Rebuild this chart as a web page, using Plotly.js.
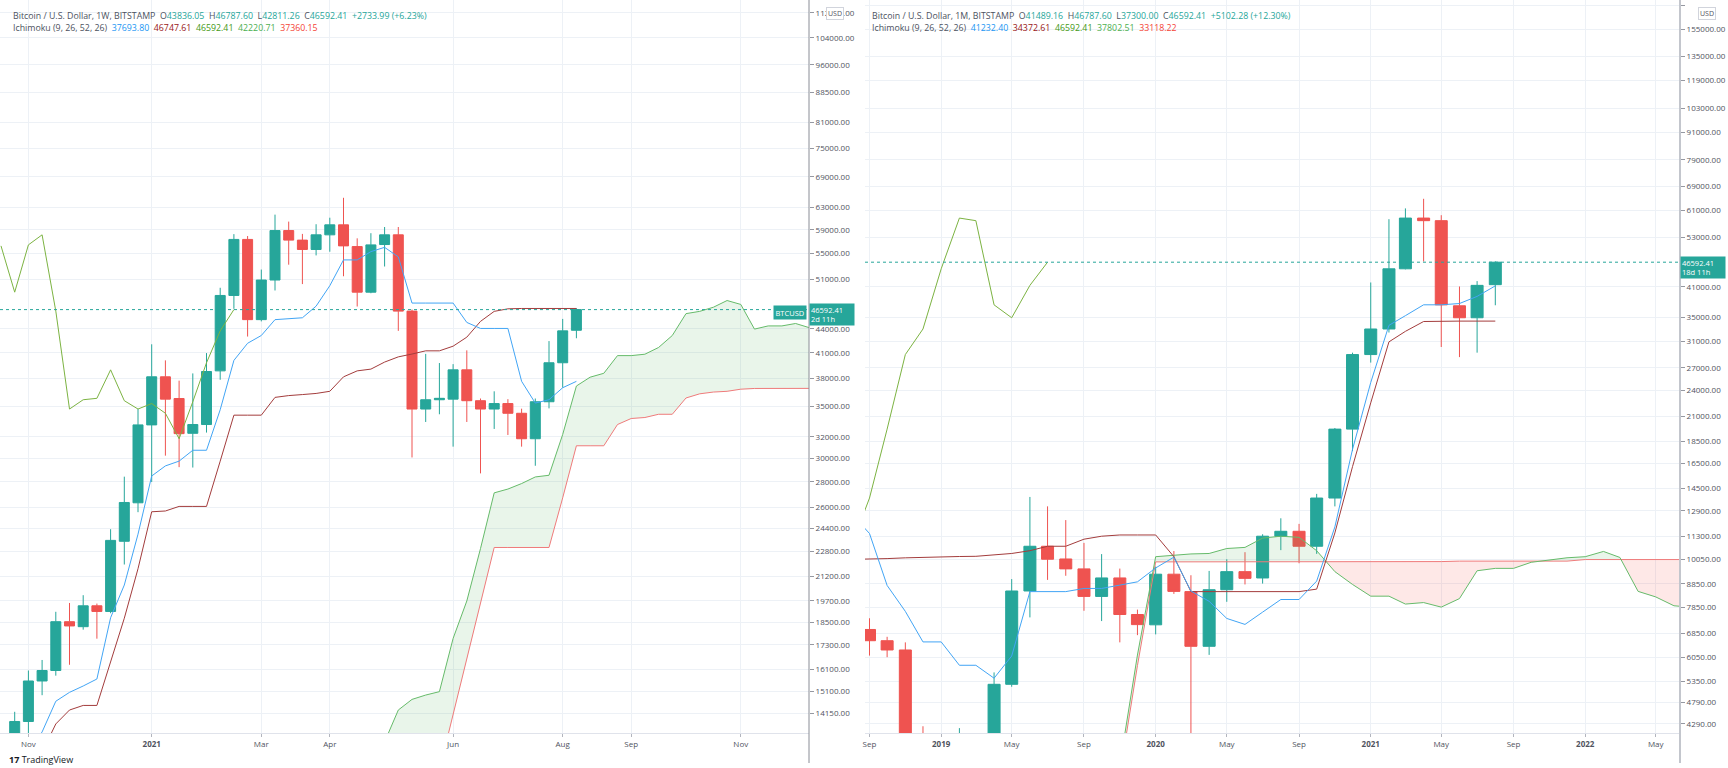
<!DOCTYPE html>
<html><head><meta charset="utf-8">
<script src="https://cdn.plot.ly/plotly-3.0.1.min.js"></script>
<style>html,body{margin:0;padding:0;background:#fff;overflow:hidden}#chart{width:1728px;height:768px}</style>
</head><body><div id="chart"></div>
<script>
// ================= WEEKLY PANEL (1W) =================
// period dates, index = k + 1 (k = 0 is the first candle)
const weekDates = ['2020-10-19','2020-10-26','2020-11-02','2020-11-09','2020-11-16','2020-11-23','2020-11-30','2020-12-07','2020-12-14','2020-12-21','2020-12-28',
'2021-01-04','2021-01-11','2021-01-18','2021-01-25','2021-02-01','2021-02-08','2021-02-15','2021-02-22','2021-03-01','2021-03-08','2021-03-15','2021-03-22','2021-03-29',
'2021-04-05','2021-04-12','2021-04-19','2021-04-26','2021-05-03','2021-05-10','2021-05-17','2021-05-24','2021-05-31','2021-06-07','2021-06-14','2021-06-21','2021-06-28',
'2021-07-05','2021-07-12','2021-07-19','2021-07-26','2021-08-02','2021-08-09','2021-08-16','2021-08-23','2021-08-30','2021-09-06','2021-09-13','2021-09-20','2021-09-27',
'2021-10-04','2021-10-11','2021-10-18','2021-10-25','2021-11-01','2021-11-08','2021-11-15','2021-11-22','2021-11-29','2021-12-06','2021-12-13'];
const wOpen  = [13050,13800,15553,16043,18531,18260,19422,19100,23500,26330,33143,38203,35828,32330,33180,38880,48581,57326,45233,50848,58847,57209,55648,58110,59850,56130,49054,56470,58110,46386,34733,35700,35764,38997,35600,34733,35300,34300,31815,35490,39822,43836.05];
const wHigh  = [14200,16043,16549,19081,19585,20040,19550,24354,28443,34733,42054,40104,37770,38588,40977,49696,58231,57900,52444,61684,60426,58270,59960,61124,64830,57510,58390,59470,59470,46600,40880,39790,39660,41308,35830,36600,35760,34770,35830,42455,45327,46787.60];
const wLow   = [12900,13200,14914,15800,16316,18100,17624,19000,21942,25610,28000,30264,29254,29220,32400,37870,46700,43027,45000,49300,53204,50240,54680,55280,51415,47020,48900,52920,43757,30103,33430,34200,31080,33430,28720,32750,32170,31080,29374,34800,37000,42811.26];
const wClose = [13800,15553,16043,18531,18300,19422,19100,23562,26354,33143,38203,35764,32299,33180,38805,48581,57326,45233,50848,58847,57209,55648,58110,59850,56243,49054,56410,58110,46386,34733,35700,35850,38997,35600,34733,35300,34300,31815,35490,39822,43757,46592.41];
// Ichimoku (weekly) - each series starts at period index k0
const wConvK0 = 1;
const wConv = [12600,13380,14650,15040,15325,15645,18750,20650,24000,28500,29360,29780,30750,30750,34660,40100,42180,43160,45230,45330,45480,47070,50000,53960,53960,55300,56000,54450,47500,47500,47500,47500,44860,44070,44070,44070,37700,35350,35700,36990,37693.80];
const wBaseK0 = 2;
const wBase = [12600,13700,14275,14470,14470,16520,18720,21670,25640,25700,26050,26050,26050,29775,34110,34110,34110,35950,36140,36250,36370,36600,38200,38880,39080,39900,40520,40860,41250,41250,41820,42950,45000,46350,46700,46747.61,46747.61,46747.61,46747.61,46747.61];
const wLagK0 = -1;
const wLag = [56243,49054,56410,58110,46386,34733,35700,35850,38997,35600,34733,35300,34300,31815,35490,39822,43757,46592.41];
const wLeadK0 = 27;
const wLeadA = [12990,14275,14730,14920,15070,17635,19700,23000,27115,27420,27870,28420,28560,32220,37178,38158,38600,40670,40670,40840,41660,43160,46040,46350,46920,47860,47310,43985,44400,44400,44720,44170,43900];
const wLeadB = [11700,11700,11800,11900,11950,14095,16570,19525,23073,23073,23073,23073,23073,26720,31160,31160,31160,33180,33775,33875,34200,34200,35885,36330,36520,36600,36830,36910,36910,36910,36910,36910,36920];
const wTickDates = ['2020-11-02','2021-01-04','2021-03-01','2021-04-05','2021-06-07','2021-08-02','2021-09-06','2021-11-01'];
const wTickText  = ['Nov','<b>2021</b>','Mar','Apr','Jun','Aug','Sep','Nov'];
const wPriceTicks = [14150,15100,16100,17300,18500,19700,21200,22800,24400,26000,28000,30000,32000,35000,38000,41000,44000,51000,55000,59000,63000,69000,75000,81000,88500,96000,104000,112000];

// ================= MONTHLY PANEL (1M) =================
const monthDates = ['2018-08-01','2018-09-01','2018-10-01','2018-11-01','2018-12-01',
'2019-01-01','2019-02-01','2019-03-01','2019-04-01','2019-05-01','2019-06-01','2019-07-01','2019-08-01','2019-09-01','2019-10-01','2019-11-01','2019-12-01',
'2020-01-01','2020-02-01','2020-03-01','2020-04-01','2020-05-01','2020-06-01','2020-07-01','2020-08-01','2020-09-01','2020-10-01','2020-11-01','2020-12-01',
'2021-01-01','2021-02-01','2021-03-01','2021-04-01','2021-05-01','2021-06-01','2021-07-01','2021-08-01','2021-09-01','2021-10-01','2021-11-01','2021-12-01',
'2022-01-01','2022-02-01','2022-03-01','2022-04-01','2022-05-01','2022-06-01','2022-07-01'];
const mOpen  = [6990,6596,6288,4030,3690,3440,3820,4080,5266,8527,10744,10060,9558,8291,9122,7552,7160,9300,8500,6408,8583,9424,9120,11316,11607,10744,13782,19675,28918,33000,45030,58520,57740,37200,34970,41489.16];
const mHigh  = [7407,6730,6540,4240,4070,4200,4090,5600,9067,13860,13203,12298,10933,10317,9573,7745,9672,10480,9250,9458,10047,10420,11430,12413,12060,14080,19790,29200,41961,58180,61520,64650,59400,41100,42260,46787.60];
const mLow   = [6108,6058,3650,3120,3400,3400,3700,4000,5200,7440,9030,9224,7698,7300,6540,6788,6815,8400,3850,6130,8064,8820,8860,10530,9840,10330,13200,17560,27740,32400,44900,46770,30070,28540,29200,37300.00];
const mClose = [6596,6288,4030,3690,3440,3820,4080,5266,8527,10744,10047,9558,8291,9122,7552,7168,9300,8510,6408,8583,9424,9102,11316,11607,10744,13782,19675,28918,33000,45030,58520,57740,37380,34970,41340,46592.41];
const mConvK0 = -1;
const mConv = [12725,11475,8775,7675,6555,6555,5810,5810,5435,6095,8500,8500,8500,8640,8640,8790,8940,9605,10155,8525,8085,7400,7175,7645,8160,8160,8975,11875,17725,25035,33625,35350,37390,37390,37640,39050,41232.40];
const mBaseK0 = -1;
const mBase = [10040,10047,10080,10120,10150,10180,10190,10200,10280,10350,10500,10744,10744,11143,11316,11388,11388,11388,10180,8500,8500,8500,8500,8500,8500,8500,8610,11510,16210,22535,30875,32600,34300,34372.61,34372.61,34372.61,34372.61];
const mLagK0 = -1;
const mLag = [10744,13782,19675,28918,33000,45030,58520,57740,37380,34970,41340,46592.41];
const mLeadK0 = 14;
const mLeadA = [3470,6125,10180,10275,10325,10350,10620,10680,11206,11316,11250,10500,9424,8820,8302,8302,7970,8032,7846,8199,9467,9584,9584,9889,10023,10122,10180,10459,10140,8510,8270,7900,7840];
const mLeadB = [3300,5800,9910,9910,9910,9910,9910,9926,9926,9926,9926,9926,9926,9926,9926,9926,9926,9926,9926,9950,9950,9950,9950,9950,9950,9950,10030,10030,10030,10030,10030,10030,10030];
const mTickDates = ['2018-09-01','2019-01-01','2019-05-01','2019-09-01','2020-01-01','2020-05-01','2020-09-01','2021-01-01','2021-05-01','2021-09-01','2022-01-01','2022-05-01'];
const mTickText  = ['Sep','<b>2019</b>','May','Sep','<b>2020</b>','May','Sep','<b>2021</b>','May','Sep','<b>2022</b>','May'];
const mPriceTicks = [4290,4790,5350,6050,6850,7850,8850,10050,11300,12900,14500,16500,18500,21000,24000,27000,31000,35000,41000,53000,61000,69000,79000,91000,103000,119000,135000,155000,175000];

// ================= STYLE / LAYOUT =================
const W = 1728, H = 768, PB = 733;
const L_END = 809, R_START = 865, R_END = 1680;
const UP = '#26a69a', DOWN = '#ef5350';
const C_CONV = '#42a5f5', C_BASE = '#a33c3c', C_LAG = '#7cb342', C_LA = '#66bb6a', C_LB = '#ef7b7b';
const FILL_UP = 'rgba(76,175,80,0.12)', FILL_DN = 'rgba(244,67,54,0.12)';
const TXT = '#50535e', GRID = '#edf1f6', FONT = 'Open Sans, Lato, sans-serif';
const px = x => x / W, py = y => (PB - y) / PB;
const L_RANGE = ['2020-10-18 11:45', '2021-12-05 20:24'];
const R_RANGE = ['2018-08-24 08:24', '2022-06-11 07:00'];

const slice = (dates, k0, n) => dates.slice(k0 + 1, k0 + 1 + n);

function candle(dates, o, h, l, c, xa, ya) {
  return {type:'candlestick', x: dates.slice(1, 1 + o.length), open:o, high:h, low:l, close:c,
    xaxis:xa, yaxis:ya, whiskerwidth:0, hoverinfo:'skip',
    increasing:{line:{color:UP, width:1}, fillcolor:UP},
    decreasing:{line:{color:DOWN, width:1}, fillcolor:DOWN}};
}
function line(dates, k0, vals, color, xa, ya) {
  return {type:'scatter', mode:'lines', x: slice(dates, k0, vals.length), y: vals,
    line:{color, width:1}, xaxis:xa, yaxis:ya, hoverinfo:'skip'};
}
function cloud(dates, k0, a, b, xa, ya) {
  const t = slice(dates, k0, a.length).map(d => Date.parse(d));
  const out = [];
  let seg = null;
  const flush = () => {
    if (seg && seg.xs.length > 1) out.push({type:'scatter', mode:'lines', fill:'toself',
      x: seg.xs.concat(seg.xs.slice().reverse()), y: seg.ya.concat(seg.yb.slice().reverse()),
      fillcolor: seg.s > 0 ? FILL_UP : FILL_DN, line:{width:0}, xaxis:xa, yaxis:ya, hoverinfo:'skip'});
  };
  for (let i = 0; i < t.length; i++) {
    const s = a[i] >= b[i] ? 1 : -1;
    if (!seg) { seg = {s, xs:[t[i]], ya:[a[i]], yb:[b[i]]}; continue; }
    if (s !== seg.s) {
      const d0 = Math.log(a[i-1]) - Math.log(b[i-1]), d1 = Math.log(a[i]) - Math.log(b[i]);
      const f = d0 / (d0 - d1);
      const tx = t[i-1] + f * (t[i] - t[i-1]);
      const yv = Math.exp(Math.log(a[i-1]) + f * (Math.log(a[i]) - Math.log(a[i-1])));
      seg.xs.push(tx); seg.ya.push(yv); seg.yb.push(yv);
      flush();
      seg = {s, xs:[tx, t[i]], ya:[yv, a[i]], yb:[yv, b[i]]};
    } else { seg.xs.push(t[i]); seg.ya.push(a[i]); seg.yb.push(b[i]); }
  }
  flush();
  return out;
}
function priceLine(range, price, xa, ya) {
  return {type:'scatter', mode:'lines', x: range, y:[price, price], xaxis:xa, yaxis:ya,
    line:{color:UP, width:1, dash:'dot'}, hoverinfo:'skip'};
}

const wLast = wClose[wClose.length - 1], mLast = mClose[mClose.length - 1];
const traces = [
  candle(weekDates, wOpen, wHigh, wLow, wClose, 'x', 'y'),
  ...cloud(weekDates, wLeadK0, wLeadA, wLeadB, 'x', 'y'),
  line(weekDates, wLeadK0, wLeadB, C_LB, 'x', 'y'),
  line(weekDates, wLeadK0, wLeadA, C_LA, 'x', 'y'),
  line(weekDates, wLagK0, wLag, C_LAG, 'x', 'y'),
  line(weekDates, wBaseK0, wBase, C_BASE, 'x', 'y'),
  line(weekDates, wConvK0, wConv, C_CONV, 'x', 'y'),
  priceLine(L_RANGE, wLast, 'x', 'y'),
  candle(monthDates, mOpen, mHigh, mLow, mClose, 'x2', 'y2'),
  ...cloud(monthDates, mLeadK0, mLeadA, mLeadB, 'x2', 'y2'),
  line(monthDates, mLeadK0, mLeadB, C_LB, 'x2', 'y2'),
  line(monthDates, mLeadK0, mLeadA, C_LA, 'x2', 'y2'),
  line(monthDates, mLagK0, mLag, C_LAG, 'x2', 'y2'),
  line(monthDates, mBaseK0, mBase, C_BASE, 'x2', 'y2'),
  line(monthDates, mConvK0, mConv, C_CONV, 'x2', 'y2'),
  priceLine(R_RANGE, mLast, 'x2', 'y2')
];

const tickFont = {family: FONT, size: 8, color: TXT};
function xax(domain, range, tv, tt, anchor) {
  return {type:'date', domain, range, anchor, tickvals:tv, ticktext:tt, tickfont:tickFont,
    showgrid:true, gridcolor:GRID, gridwidth:1, ticks:'outside', ticklen:3, tickcolor:'#b2b5be',
    showline:true, linecolor:'#e0e3eb', zeroline:false, rangeslider:{visible:false}, fixedrange:true};
}
function yax(range, ticks, anchor) {
  return {type:'log', side:'right', anchor, range, tickvals:ticks, ticktext:ticks.map(v => v.toFixed(2)),
    tickfont:tickFont, showgrid:true, gridcolor:GRID, gridwidth:1, ticks:'outside', ticklen:4,
    tickcolor:'#9598a1', showline:false, zeroline:false, fixedrange:true};
}

const G = '#4c525e';
const sp = '\u00a0\u00a0';
const kv = (k, v) => `<span style="color:${G}">${k}</span><span style="color:${UP}">${v}</span>`;
const hdr1L = `<span style="color:${G}">Bitcoin / U.S. Dollar, 1W, BITSTAMP</span>${sp}` +
  [kv('O','43836.05'), kv('H','46787.60'), kv('L','42811.26'), kv('C','46592.41')].join(sp) +
  `${sp}<span style="color:${UP}">+2733.99 (+6.23%)</span>`;
const hdr2L = `<span style="color:${G}">Ichimoku (9, 26, 52, 26)</span>${sp}` +
  `<span style="color:#2196f3">37693.80</span>${sp}<span style="color:#991515">46747.61</span>${sp}` +
  `<span style="color:#459915">46592.41</span>${sp}<span style="color:#4caf50">42220.71</span>${sp}<span style="color:#f44336">37360.15</span>`;
const hdr1R = `<span style="color:${G}">Bitcoin / U.S. Dollar, 1M, BITSTAMP</span>${sp}` +
  [kv('O','41489.16'), kv('H','46787.60'), kv('L','37300.00'), kv('C','46592.41')].join(sp) +
  `${sp}<span style="color:${UP}">+5102.28 (+12.30%)</span>`;
const hdr2R = `<span style="color:${G}">Ichimoku (9, 26, 52, 26)</span>${sp}` +
  `<span style="color:#2196f3">41232.40</span>${sp}<span style="color:#991515">34372.61</span>${sp}` +
  `<span style="color:#459915">46592.41</span>${sp}<span style="color:#4caf50">37802.51</span>${sp}<span style="color:#f44336">33118.22</span>`;

const hfont = {family: FONT, size: 8.8, color: G};
const ann = (x, y, text, extra) => Object.assign({xref:'paper', yref:'paper', x:px(x), y:py(y), text,
  showarrow:false, xanchor:'left', yanchor:'middle', font:hfont}, extra || {});
const boxFont = {family:FONT, size:7.5, color:'#fff'};
const annotations = [
  ann(11, 15.5, hdr1L), ann(11, 28, hdr2L),
  ann(870, 15.5, hdr1R), ann(870, 28, hdr2R),
  ann(L_END, 314, wLast.toFixed(2) + '<br>2d 11h', {bgcolor:UP, font:boxFont, align:'left', valign:'middle', borderpad:1, width:42, height:19}),
  ann(L_END - 2, 312, 'BTCUSD', {xanchor:'right', bgcolor:UP, font:boxFont, borderpad:1.5}),
  ann(R_END, 267, mLast.toFixed(2) + '<br>18d 11h', {bgcolor:UP, font:boxFont, align:'left', valign:'middle', borderpad:1, width:42, height:19}),
  ann(L_END + 26, 14, 'USD', {xanchor:'center', bgcolor:'#fff', bordercolor:'#d1d4dc', borderwidth:1, borderpad:1, font:{family:FONT, size:7, color:TXT}}),
  ann(R_END + 27, 14, 'USD', {xanchor:'center', bgcolor:'#fff', bordercolor:'#d1d4dc', borderwidth:1, borderpad:1, font:{family:FONT, size:7, color:TXT}}),
  ann(7, 759, '<b>17</b> TradingView', {font:{family:FONT, size:9, color:'#131722'}})
];

const shapes = [
  {type:'line', xref:'paper', yref:'paper', x0:px(L_END), x1:px(L_END), y0:py(0), y1:py(763), line:{color:'#8a8d96', width:1}},
  {type:'line', xref:'paper', yref:'paper', x0:px(R_END), x1:px(R_END), y0:py(0), y1:py(763), line:{color:'#c3c6cd', width:2}}
];

const layout = {
  width:W, height:H, margin:{l:0, r:0, t:0, b:H-PB, pad:0},
  paper_bgcolor:'#fff', plot_bgcolor:'#fff', showlegend:false, hovermode:false,
  boxgap:0, boxgroupgap:0.27,
  xaxis: xax([0, L_END/W], L_RANGE, wTickDates, wTickText, 'y'),
  yaxis: yax([Math.log10(13338), Math.log10(116290)], wPriceTicks, 'x'),
  xaxis2: xax([R_START/W, R_END/W], R_RANGE, mTickDates, mTickText, 'y2'),
  yaxis2: yax([Math.log10(4095), Math.log10(180500)], mPriceTicks, 'x2'),
  annotations, shapes
};
Plotly.newPlot('chart', traces, layout, {staticPlot:true, displayModeBar:false});
</script></body></html>
